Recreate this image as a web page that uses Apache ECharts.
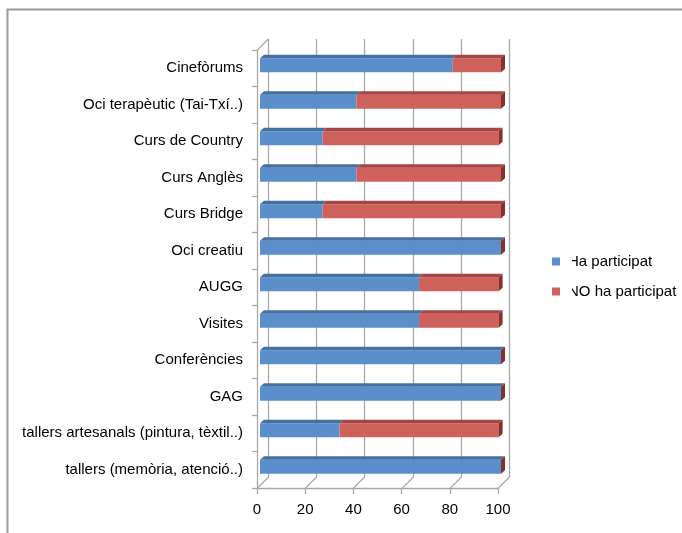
<!DOCTYPE html>
<html>
<head>
<meta charset="utf-8">
<script src="https://cdn.jsdelivr.net/npm/echarts@6/dist/echarts.min.js"></script>
<style>
  html, body { margin: 0; padding: 0; background: #fff; }
  #chart { width: 682px; height: 533px; }
</style>
</head>
<body>
<div id="chart"></div>
<script>
// Activities (top to bottom) and share of people who took part / did not
const categories = [
  'Cinefòrums',
  'Oci terapèutic (Tai-Txí..)',
  'Curs de Country',
  'Curs Anglès',
  'Curs Bridge',
  'Oci creatiu',
  'AUGG',
  'Visites',
  'Conferències',
  'GAG',
  'tallers artesanals (pintura, tèxtil..)',
  'tallers (memòria, atenció..)'
];
const haParticipat = [80, 40, 26, 40, 26, 100, 66, 66, 100, 100, 33, 100];
const noHaParticipat = [20, 60, 73, 60, 74, 0, 33, 33, 0, 0, 66, 0];
const xTicks = [0, 20, 40, 60, 80, 100];
const seriesNames = ['Ha participat', 'NO ha participat'];

// stacked segments: [category index, start, end]
const blueSegs = categories.map((c, i) => [i, 0, haParticipat[i]]);
const redSegs = categories.map((c, i) => [i, haParticipat[i], haParticipat[i] + noHaParticipat[i]]);

const WALL = 11;      // depth of the back wall
const BAR_SHIFT = 3;  // bars sit slightly behind the front plane
const BAR_D = 4;      // bar depth (top / side faces)
const FONT = '"Liberation Sans", Arial, sans-serif';

const palette = {
  blue: { front: '#5A8FCB', top: '#44719F', side: '#3C6593' },
  red:  { front: '#CE615B', top: '#A64541', side: '#8A2E2B' }
};

function barRenderer(colors, drawSide) {
  return function (params, api) {
    const cat = api.value(0);
    const a = api.coord([api.value(1), cat]);
    const b = api.coord([api.value(2), cat]);
    const x0 = a[0] + BAR_SHIFT;
    const x1 = b[0] + BAR_SHIFT;
    const cy = a[1];
    const yt = cy - 10, yb = cy + 4;
    const children = [];
    if (x1 > x0) {
      children.push({
        type: 'rect',
        shape: { x: x0, y: yt, width: x1 - x0, height: yb - yt },
        style: { fill: colors.front }
      });
      children.push({
        type: 'polygon',
        shape: { points: [[x0, yt], [x1, yt], [x1 + BAR_D, yt - BAR_D + 0.5], [x0 + BAR_D, yt - BAR_D + 0.5]] },
        style: { fill: colors.top }
      });
    }
    if (drawSide) {
      children.push({
        type: 'polygon',
        shape: { points: [[x1, yt], [x1 + BAR_D, yt - BAR_D + 0.5], [x1 + BAR_D, yb - BAR_D + 0.5], [x1, yb]] },
        style: { fill: colors.side }
      });
    }
    return { type: 'group', children: children };
  };
}

// back wall grid lines and floor edges
function frameRenderer(params, api) {
  const cs = params.coordSys;
  const v = api.value(0);
  const fx = Math.round(api.coord([v, 0])[0]) + 0.5;
  const bx = fx + WALL;
  const top = cs.y - WALL;
  const backBottom = cs.y + cs.height - WALL;
  const frontBottom = cs.y + cs.height;
  const line = { stroke: '#A8A8A8', lineWidth: 1.3, fill: null };
  const children = [
    { type: 'line', shape: { x1: bx, y1: top, x2: bx, y2: backBottom }, style: line },
    { type: 'line', shape: { x1: bx, y1: backBottom, x2: fx, y2: frontBottom }, style: line }
  ];
  if (v === xTicks[0]) {
    children.push({ type: 'line', shape: { x1: bx, y1: top, x2: fx, y2: cs.y }, style: line });
  }
  return { type: 'group', children: children };
}

const chart = echarts.init(document.getElementById('chart'), null, { renderer: 'canvas' });

chart.setOption({
  animation: false,
  backgroundColor: '#fff',
  grid: { left: 257, right: 184, top: 50, bottom: 45 },
  xAxis: {
    type: 'value',
    min: 0, max: 100, interval: 20,
    axisLine: { show: true, lineStyle: { color: '#A8A8A8', width: 1.3 } },
    axisTick: { show: true, length: 6, lineStyle: { color: '#A8A8A8', width: 1.3 } },
    axisLabel: { color: '#000', fontSize: 15, fontFamily: FONT, margin: 14 },
    splitLine: { show: false }
  },
  yAxis: {
    type: 'category',
    data: categories,
    inverse: true,
    axisLine: { show: true, lineStyle: { color: '#A8A8A8', width: 1.3 } },
    axisTick: { show: true, length: 5, lineStyle: { color: '#A8A8A8', width: 1.3 } },
    axisLabel: { color: '#000', fontSize: 15, fontFamily: FONT, margin: 14, padding: [5, 0, 0, 0] },
    splitLine: { show: false }
  },
  legend: {
    orient: 'vertical',
    left: 552, top: 254,
    padding: 0,
    itemWidth: 8, itemHeight: 8,
    itemGap: 15,
    icon: 'rect',
    data: seriesNames,
    textStyle: { color: '#000', fontSize: 15, fontFamily: FONT, padding: [0, 0, 0, 3] }
  },
  graphic: [
    {
      type: 'rect', z: 0, silent: true,
      shape: { x: 7.5, y: 9.5, width: 700, height: 600 },
      style: { fill: null, stroke: '#9A9A9A', lineWidth: 2 }
    },
    {
      // the legend box is narrower than its labels: first letters are cut
      type: 'rect', z: 100, silent: true,
      shape: { x: 561, y: 245, width: 11, height: 60 },
      style: { fill: '#fff' }
    }
  ],
  series: [
    {
      name: 'frame', type: 'custom', silent: true, z: 1,
      data: xTicks.map(v => [v]),
      encode: { x: 0 },
      renderItem: frameRenderer
    },
    {
      name: seriesNames[0], type: 'custom', z: 3,
      itemStyle: { color: palette.blue.front },
      data: blueSegs,
      encode: { y: 0, x: [1, 2] },
      renderItem: barRenderer(palette.blue, false)
    },
    {
      name: seriesNames[1], type: 'custom', z: 4,
      itemStyle: { color: palette.red.front },
      data: redSegs,
      encode: { y: 0, x: [1, 2] },
      renderItem: barRenderer(palette.red, true)
    }
  ]
});
</script>
</body>
</html>
